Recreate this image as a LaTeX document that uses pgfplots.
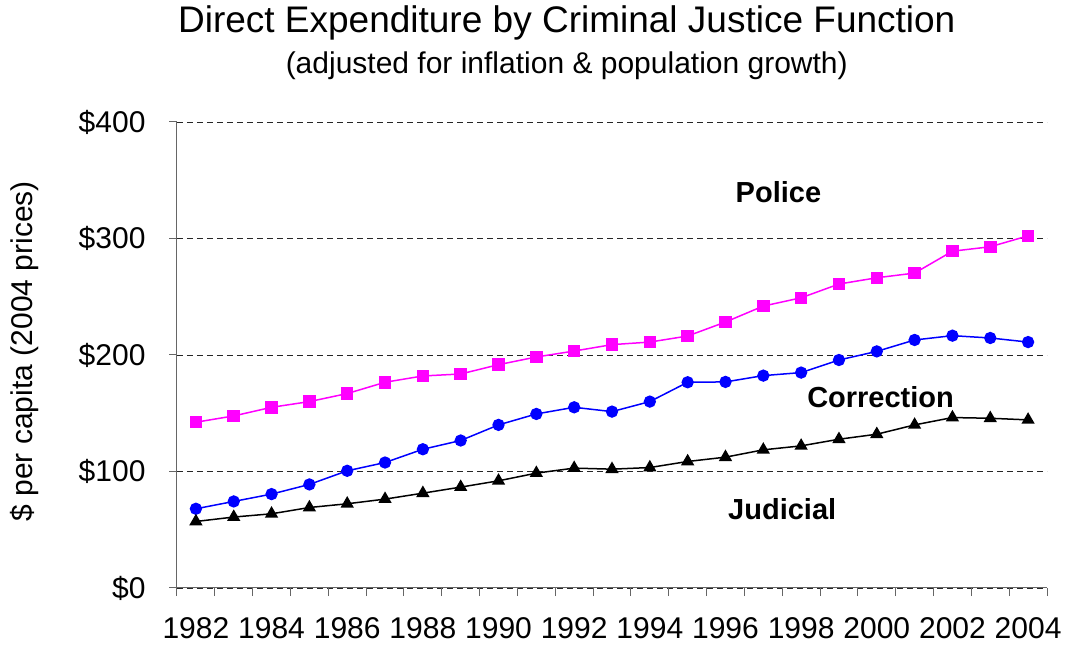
\documentclass[border=0pt]{standalone}
\usepackage{pgfplots}
\pgfplotsset{compat=1.18}
\usepackage{fontspec}
\setmainfont{Liberation Sans}
\definecolor{mag}{RGB}{255,0,255}
\definecolor{blu}{RGB}{0,0,255}
\begin{document}
\begin{tikzpicture}
\begin{axis}[
  scale only axis, width=870pt, height=466pt,
  xmin=1981.5, xmax=2004.5, ymin=0, ymax=400,
  axis lines*=left,
  axis line style={draw=gray!80!black, line width=1pt},
  clip=false,
  xtick={1982,1984,...,2004},
  xticklabels={1982,1984,1986,1988,1990,1992,1994,1996,1998,2000,2002,2004},
  xtick style={draw=none},
  extra x ticks={1981.5,1982.5,...,2004.5},
  extra x tick labels={},
  extra x tick style={major tick length=8pt, tick align=outside, xtick style={draw=gray!80!black, line width=1pt}, grid=none},
  ytick={0,100,200,300,400},
  yticklabels={\$0,\$100,\$200,\$300,\$400},
  ytick style={draw=gray!80!black, line width=1pt},
  major tick length=8pt, tick align=outside,
  ymajorgrids, grid style={black!85, dash pattern=on 6pt off 4pt, line width=0.8pt},
  tick label style={font=\fontsize{30}{36}\selectfont},
  /pgf/number format/assume math mode=true,
  xticklabel style={yshift=-18pt},
  yticklabel style={xshift=-20pt},
]
\addplot[color=mag, line width=1.5pt, mark=square*, mark size=5.5pt, mark options={solid, fill=mag}] coordinates {
(1982,142.3)(1983,147.7)(1984,155.1)(1985,160)(1986,166.9)(1987,176.6)(1988,182)(1989,183.7)(1990,191.7)(1991,198.3)(1992,203.4)(1993,208.9)(1994,211.1)(1995,216.3)(1996,228.3)(1997,242)(1998,249.1)(1999,260.9)(2000,266.3)(2001,270.3)(2002,289.1)(2003,292.9)(2004,302.3)};
\addplot[color=blu, line width=1.5pt, mark=*, mark size=5.4pt, mark options={solid, fill=blu}] coordinates {
(1982,68)(1983,74.3)(1984,80.6)(1985,88.9)(1986,100.6)(1987,107.7)(1988,119.1)(1989,126.6)(1990,140)(1991,149.4)(1992,155.1)(1993,151.4)(1994,160)(1995,176.6)(1996,176.9)(1997,182.3)(1998,184.9)(1999,195.7)(2000,203.1)(2001,212.9)(2002,216.6)(2003,214.6)(2004,211.1)};
\addplot[color=black, line width=1.5pt, mark=triangle*, mark size=6.2pt, mark options={solid, fill=black}] coordinates {
(1982,57.1)(1983,60.9)(1984,63.7)(1985,69.1)(1986,72.3)(1987,76.3)(1988,81.4)(1989,86.6)(1990,92)(1991,98.6)(1992,102.9)(1993,102)(1994,103.4)(1995,108.6)(1996,112.3)(1997,118.6)(1998,122)(1999,127.7)(2000,132)(2001,140)(2002,146.3)(2003,145.7)(2004,144.3)};
\node[font=\fontsize{29}{34}\selectfont\bfseries] at (axis cs:1997.4,340) {Police};
\node[font=\fontsize{29}{34}\selectfont\bfseries] at (axis cs:2000.1,164) {Correction};
\node[font=\fontsize{29}{34}\selectfont\bfseries] at (axis cs:1997.5,68) {Judicial};
\node[font=\fontsize{37}{42}\selectfont] at ([yshift=99pt]rel axis cs:0.448,1) {Direct Expenditure by Criminal Justice Function};
\node[font=\fontsize{30}{35}\selectfont] at ([yshift=56pt]rel axis cs:0.448,1) {(adjusted for inflation \& population growth)};
\node[font=\fontsize{30}{35}\selectfont, rotate=90] at ([xshift=-152pt]rel axis cs:0,0.508) {\$ per capita (2004 prices)};
\end{axis}
\path (current axis.south west) ++(-177pt,-62pt) rectangle ++(1065pt,650pt);
\end{tikzpicture}
\end{document}
